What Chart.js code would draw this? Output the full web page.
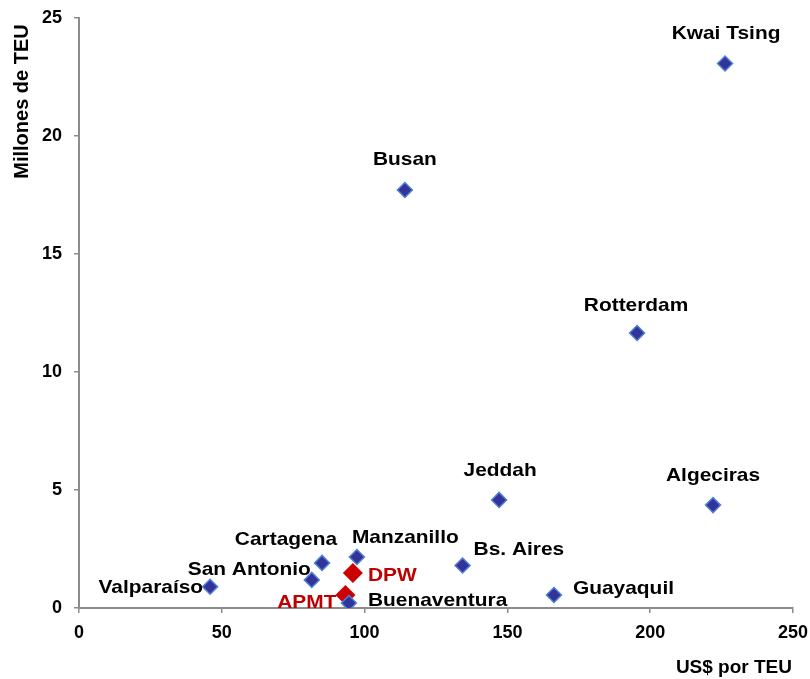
<!DOCTYPE html>
<html>
<head>
<meta charset="utf-8">
<script src="https://cdn.jsdelivr.net/npm/chart.js@4/dist/chart.umd.min.js"></script>
<style>
  html, body { margin: 0; padding: 0; background: #ffffff; }
  #wrap { width: 810px; height: 679px; }
</style>
</head>
<body>
<div id="wrap"><canvas id="c" width="810" height="679"></canvas></div>
<script>
// Ports: handling cost (US$ per TEU) vs. throughput (million TEU)
const ports = ['Kwai Tsing', 'Busan', 'Rotterdam', 'Jeddah', 'Algeciras', 'Bs. Aires',
               'Guayaquil', 'Manzanillo', 'Cartagena', 'San Antonio', 'Valparaíso', 'Buenaventura'];
const portCost = [226.2, 114.1, 195.4, 147.1, 222.0, 134.3, 166.3, 97.3, 85.1, 81.5, 45.9, 94.5];
const portVolume = [23.07, 17.71, 11.65, 4.58, 4.36, 1.80, 0.55, 2.16, 1.91, 1.19, 0.90, 0.21];

// Terminal operators highlighted in red
const operators = ['DPW', 'APMT'];
const operatorCost = [95.9, 93.3];
const operatorVolume = [1.48, 0.55];

// Tick values on each axis
const xTicks = [0, 50, 100, 150, 200, 250];
const yTicks = [0, 5, 10, 15, 20, 25];

// Axis titles
const xTitle = 'US$ por TEU';
const yTitle = 'Millones de TEU';

// Where each name sits relative to its marker (pixels; dy is to the middle of the capitals)
const portLabelPlacement = [
  { dx: 1, dy: -31, align: 'center' },  // Kwai Tsing
  { dx: 0, dy: -32, align: 'center' },  // Busan
  { dx: -1, dy: -29, align: 'center' }, // Rotterdam
  { dx: 1, dy: -31, align: 'center' },  // Jeddah
  { dx: 0, dy: -31, align: 'center' },  // Algeciras
  { dx: 11, dy: -17, align: 'left' },   // Bs. Aires
  { dx: 19, dy: -8, align: 'left' },    // Guayaquil
  { dx: -5, dy: -21, align: 'left' },   // Manzanillo
  { dx: 15, dy: -25, align: 'right' },  // Cartagena
  { dx: -1, dy: -12, align: 'right' },  // San Antonio
  { dx: -7, dy: -1, align: 'right' },   // Valparaíso
  { dx: 19, dy: -3.5, align: 'left' }   // Buenaventura
];
const operatorLabelPlacement = [
  { dx: 15, dy: 1, align: 'left' },     // DPW
  { dx: -9, dy: 6, align: 'right' }     // APMT
];

const FONT = '"Liberation Sans", Arial, sans-serif';
const LABEL_SIZE = 19;

const toPoints = (xs, ys) => xs.map((x, i) => ({ x: x, y: ys[i] }));

// Names beside the markers, plus the two axis titles
const annotations = {
  id: 'annotations',
  afterDatasetsDraw(chart) {
    const sets = [
      { names: ports, place: portLabelPlacement, color: '#000000' },
      { names: operators, place: operatorLabelPlacement, color: '#c00000' }
    ];
    const ctx = chart.ctx;
    sets.forEach((s, di) => {
      const meta = chart.getDatasetMeta(di);
      meta.data.forEach((el, i) => {
        const p = s.place[i];
        ctx.save();
        ctx.font = 'bold ' + LABEL_SIZE + 'px ' + FONT;
        ctx.fillStyle = s.color;
        ctx.textBaseline = 'alphabetic';
        ctx.textAlign = p.align;
        ctx.translate(el.x + p.dx, el.y + p.dy + LABEL_SIZE * 0.358);
        ctx.scale(1.1, 1);
        ctx.fillText(s.names[i], 0, 0);
        ctx.restore();
      });
    });

    // axis titles
    ctx.save();
    ctx.fillStyle = '#000000';
    ctx.textBaseline = 'alphabetic';
    ctx.font = 'bold 19px ' + FONT;
    ctx.textAlign = 'right';
    ctx.fillText(xTitle, 792, 673);
    ctx.translate(28, 101.5);
    ctx.rotate(-Math.PI / 2);
    ctx.font = 'bold 20px ' + FONT;
    ctx.textAlign = 'center';
    ctx.fillText(yTitle, 0, 0);
    ctx.restore();
  }
};

const axisColor = '#8c8c8c';

function fixedAxis(size, isX) {
  return s => {
    if (isX) { s.height = size; } else { s.width = size; }
    s.paddingTop = 0; s.paddingBottom = 0; s.paddingLeft = 0; s.paddingRight = 0;
  };
}

new Chart(document.getElementById('c'), {
  type: 'scatter',
  data: {
    datasets: [
      {
        label: 'Puertos',
        data: toPoints(portCost, portVolume),
        pointStyle: 'rectRot',
        pointRadius: 7.5,
        backgroundColor: '#333399',
        borderColor: '#4f80d2',
        borderWidth: 1.5
      },
      {
        label: 'Operadores',
        data: toPoints(operatorCost, operatorVolume),
        pointStyle: 'rectRot',
        pointRadius: 10,
        backgroundColor: '#cc0000',
        borderColor: '#cc0000',
        borderWidth: 0
      }
    ]
  },
  options: {
    responsive: false,
    animation: false,
    layout: { padding: { top: 18, right: 17, left: 0, bottom: 0 } },
    plugins: {
      legend: { display: false },
      tooltip: { enabled: false }
    },
    scales: {
      x: {
        type: 'linear',
        min: xTicks[0],
        max: xTicks[xTicks.length - 1],
        afterBuildTicks: s => { s.ticks = xTicks.map(v => ({ value: v })); },
        afterFit: fixedAxis(71, true),
        ticks: {
          color: '#000000',
          padding: 9,
          font: { family: FONT, size: 18, weight: 'bold' }
        },
        grid: {
          drawOnChartArea: false,
          drawTicks: true,
          tickLength: 5,
          color: axisColor,
          lineWidth: 1.5
        },
        border: { display: true, color: axisColor, width: 2 }
      },
      y: {
        type: 'linear',
        min: yTicks[0],
        max: yTicks[yTicks.length - 1],
        afterBuildTicks: s => { s.ticks = yTicks.map(v => ({ value: v })); },
        afterFit: fixedAxis(79, false),
        ticks: {
          color: '#000000',
          padding: 12,
          font: { family: FONT, size: 18, weight: 'bold' }
        },
        grid: {
          drawOnChartArea: false,
          drawTicks: true,
          tickLength: 5,
          color: axisColor,
          lineWidth: 1.5
        },
        border: { display: true, color: axisColor, width: 2 }
      }
    }
  },
  plugins: [annotations]
});
</script>
</body>
</html>
